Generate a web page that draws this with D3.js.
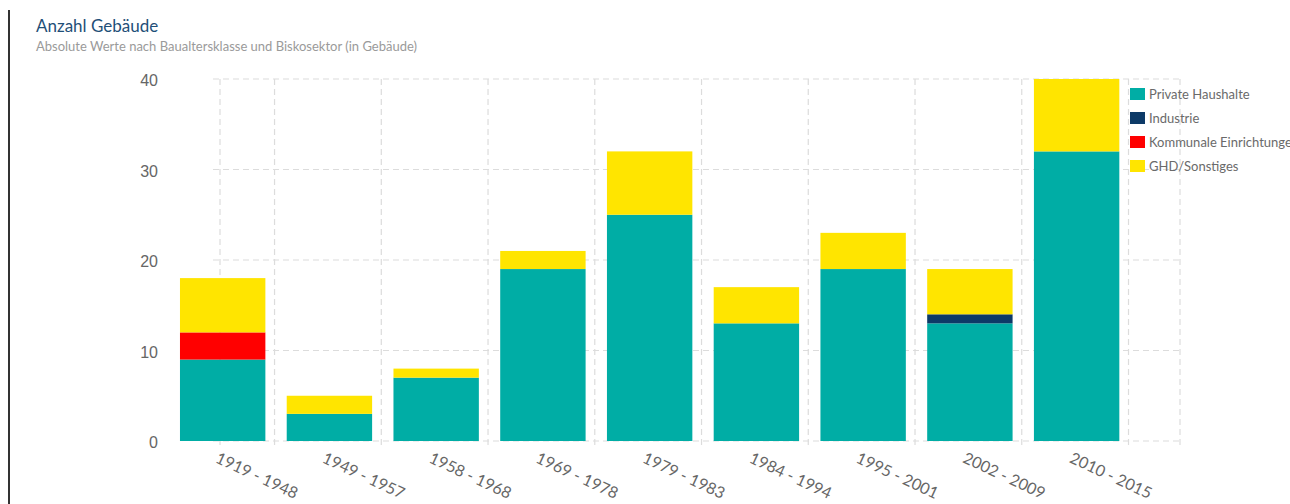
<!DOCTYPE html>
<html><head><meta charset="utf-8">
<script src="https://cdn.jsdelivr.net/npm/d3@7"></script>
<style>
html,body{margin:0;padding:0;background:#fff;overflow:hidden}
svg{display:block}
</style></head>
<body><svg id="c" width="1290" height="504"></svg>
<script>
const categories = ["1919 - 1948","1949 - 1957","1958 - 1968","1969 - 1978","1979 - 1983","1984 - 1994","1995 - 2001","2002 - 2009","2010 - 2015"];
const seriesNames = ["Private Haushalte","Industrie","Kommunale Einrichtungen","GHD/Sonstiges"];
const privateHaushalte = [9,3,7,19,25,13,19,13,32];
const industrie = [0,0,0,0,0,0,0,1,0];
const kommunale = [3,0,0,0,0,0,0,0,0];
const ghd = [6,2,1,2,7,4,4,5,8];
const yTicks = [0,10,20,30,40];
const colors = ["#00ADA5","#0D3A67","#FF0000","#FFE500"];

const svg = d3.select("#c");
const W = 1290, H = 504;

// left border
svg.append("line").attr("x1",9).attr("x2",9).attr("y1",10).attr("y2",H)
  .attr("stroke","#333").attr("stroke-width",2);

// titles
svg.append("text").attr("x",36).attr("y",32).text("Anzahl Gebäude")
  .attr("font-family","Lato").attr("font-size",17).attr("fill","#1f4f78");
svg.append("text").attr("x",36).attr("y",51).text("Absolute Werte nach Baualtersklasse und Biskosektor (in Gebäude)")
  .attr("font-family","Lato").attr("font-size",13).attr("fill","#9a9a9a");

const x = d3.scaleBand().domain(categories).range([169.3,1130]).paddingInner(0.2).paddingOuter(0.1);
const y = d3.scaleLinear().domain([0,40]).range([441,79]);

const gridColor = "#dcdcdc";
const g = svg.append("g");
// horizontal grid
g.selectAll("line.h").data(yTicks).join("line")
  .attr("x1",213).attr("x2",1181)
  .attr("y1",d=>y(d)).attr("y2",d=>y(d))
  .attr("stroke",gridColor).attr("stroke-width",1.2).attr("stroke-dasharray","6,4");
// vertical grid at band boundaries plus edges
const step = x.step();
const vx = [220].concat(categories.map(c=>x(c)+x.bandwidth()+step*0.2/2 - 1.5)).concat([1180]);
g.selectAll("line.v").data(vx).join("line")
  .attr("x1",d=>d).attr("x2",d=>d)
  .attr("y1",y(40)).attr("y2",y(0)+6)
  .attr("stroke",gridColor).attr("stroke-width",1.2).attr("stroke-dasharray","6,4");

// stacked bars
const table = categories.map((c,i)=>({cat:c, "Private Haushalte":privateHaushalte[i], "Industrie":industrie[i], "Kommunale Einrichtungen":kommunale[i], "GHD/Sonstiges":ghd[i]}));
const stacked = d3.stack().keys(seriesNames)(table);
svg.append("g").selectAll("g").data(stacked).join("g")
  .attr("fill",(d,i)=>colors[i])
  .selectAll("rect").data(d=>d).join("rect")
  .attr("x",d=>x(d.data.cat))
  .attr("width",x.bandwidth())
  .attr("y",d=>y(d[1]))
  .attr("height",d=>y(d[0])-y(d[1]));

// y axis labels
const yAxis = d3.axisLeft(y).tickValues(yTicks).tickSize(0).tickPadding(0);
const ya = svg.append("g").attr("transform","translate(158,1)").call(yAxis);
ya.select(".domain").remove();
ya.selectAll("text").attr("font-family","Liberation Sans, Arial").attr("font-size",16).attr("fill","#666").attr("dy","0.36em");

// x axis labels
const xAxis = d3.axisBottom(x).tickSize(0);
const xa = svg.append("g").attr("transform",`translate(0,${y(0)})`).call(xAxis);
xa.select(".domain").remove();
xa.selectAll("text")
  .attr("font-family","Lato").attr("font-size",16).attr("fill","#666")
  .attr("text-anchor","start")
  .attr("transform","translate(-3,10) rotate(25)")
  .attr("y",0).attr("dy","0.75em");

// legend
const lg = svg.append("g").attr("transform","translate(1130,88)");
const items = lg.selectAll("g").data(seriesNames).join("g").attr("transform",(d,i)=>`translate(0,${i*24})`);
items.append("rect").attr("width",15).attr("height",12).attr("fill",(d,i)=>colors[i]);
items.append("text").attr("x",19).attr("y",10.5).text(d=>d)
  .attr("font-family","Lato").attr("font-size",13).attr("fill","#6a6a6a");
</script></body></html>
